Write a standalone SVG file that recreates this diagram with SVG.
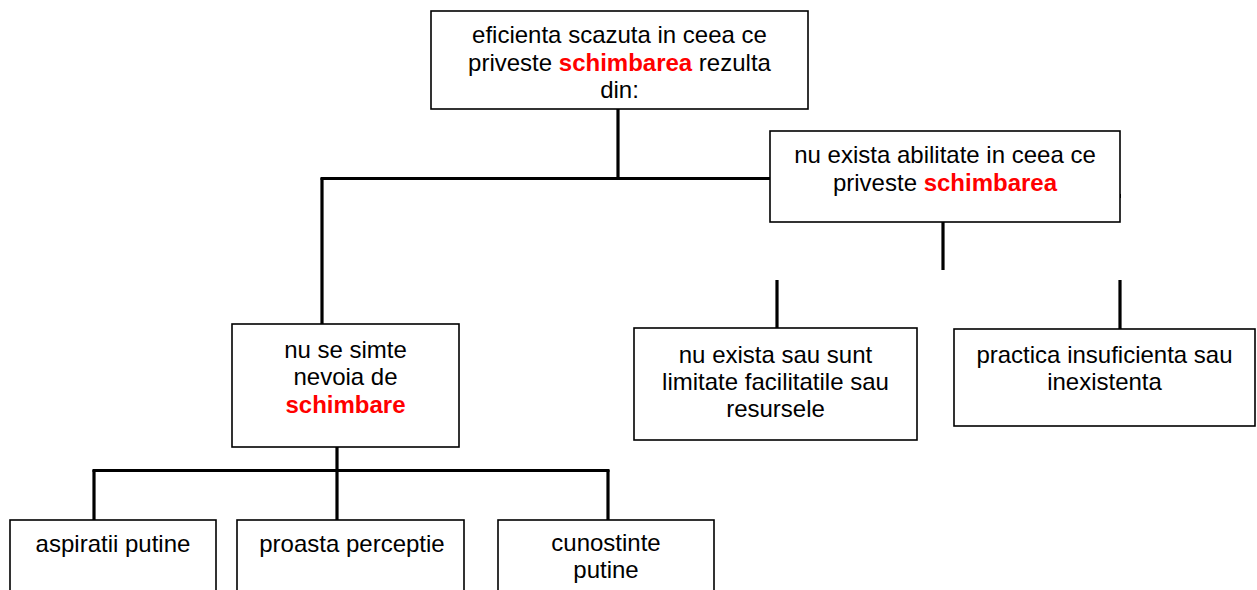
<svg xmlns="http://www.w3.org/2000/svg" width="1257" height="590" viewBox="0 0 1257 590">
<style>
.box{fill:#fff;stroke:#000;stroke-width:1.6}
.t{font-family:"Liberation Sans",Arial,sans-serif;font-size:24px;fill:#000;text-anchor:middle}
.r{fill:#ff0000;font-weight:bold}
.c{stroke:#000;stroke-width:3.2;fill:none}
</style>
<rect width="1257" height="590" fill="#fff"/>
<g id="connectors">
<line class="c" x1="618" y1="109" x2="618" y2="180"/>
<line class="c" x1="320.5" y1="178.5" x2="770" y2="178.5"/>
<line class="c" x1="322" y1="178" x2="322" y2="324"/>
<line class="c" x1="943" y1="222" x2="943" y2="270"/>
<line class="c" x1="777" y1="280" x2="777" y2="328"/>
<line class="c" x1="1120" y1="280" x2="1120" y2="329"/>
<line class="c" x1="337" y1="447" x2="337" y2="472"/>
<line class="c" x1="92.5" y1="470.5" x2="609.5" y2="470.5"/>
<line class="c" x1="94" y1="470" x2="94" y2="520"/>
<line class="c" x1="337" y1="470" x2="337" y2="520"/>
<line class="c" x1="608" y1="470" x2="608" y2="520"/>
<line x1="1120.5" y1="194" x2="1120.5" y2="198" stroke="#000" stroke-width="1"/>
</g>
<g id="n1">
<rect class="box" x="431" y="11" width="377" height="98"/>
<text class="t" x="619.5" y="43">eficienta scazuta in ceea ce</text>
<text class="t" x="619.5" y="71">priveste <tspan class="r">schimbarea</tspan> rezulta</text>
<text class="t" x="619.5" y="98">din:</text>
</g>
<g id="n2">
<rect class="box" x="770" y="131" width="350" height="91"/>
<text class="t" x="945" y="163">nu exista abilitate in ceea ce</text>
<text class="t" x="945" y="191">priveste <tspan class="r">schimbarea</tspan></text>
</g>
<g id="n3">
<rect class="box" x="232" y="324" width="227" height="123"/>
<text class="t" x="345.5" y="358">nu se simte</text>
<text class="t" x="345.5" y="385">nevoia de</text>
<text class="t r" x="345.5" y="413">schimbare</text>
</g>
<g id="n4">
<rect class="box" x="634" y="328" width="283" height="112"/>
<text class="t" x="775.5" y="363">nu exista sau sunt</text>
<text class="t" x="775.5" y="390">limitate facilitatile sau</text>
<text class="t" x="775.5" y="417">resursele</text>
</g>
<g id="n5">
<rect class="box" x="954" y="329" width="301" height="97"/>
<text class="t" x="1104.5" y="363">practica insuficienta sau</text>
<text class="t" x="1104.5" y="390">inexistenta</text>
</g>
<g id="n6">
<rect class="box" x="10" y="520" width="206" height="80"/>
<text class="t" x="113" y="552">aspiratii putine</text>
</g>
<g id="n7">
<rect class="box" x="237" y="520" width="227" height="80"/>
<text class="t" x="352" y="552">proasta perceptie</text>
</g>
<g id="n8">
<rect class="box" x="498" y="520" width="216" height="80"/>
<text class="t" x="606" y="551">cunostinte</text>
<text class="t" x="606" y="578">putine</text>
</g>
</svg>
